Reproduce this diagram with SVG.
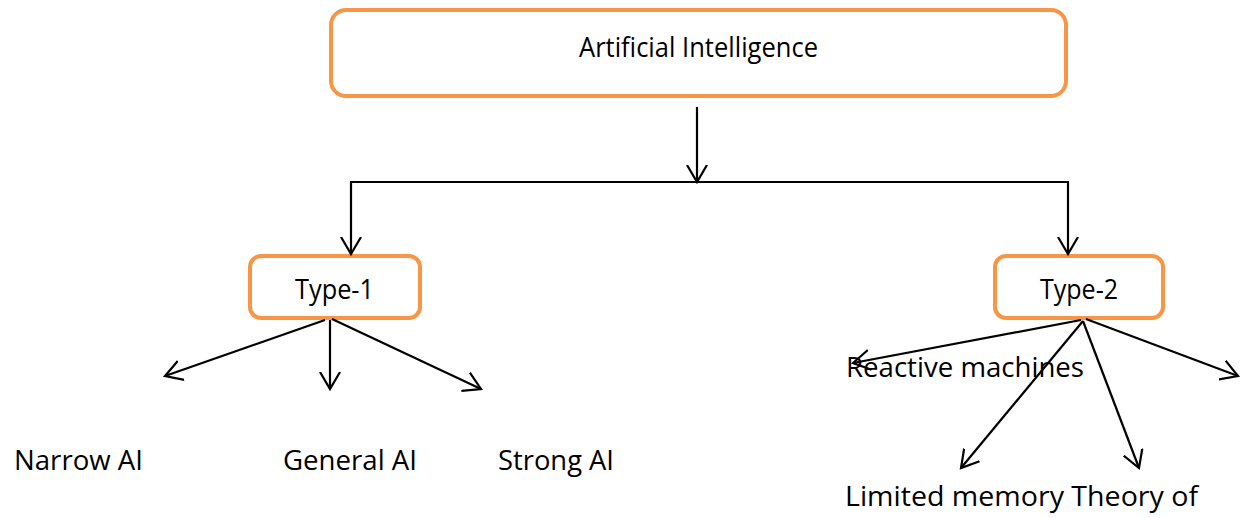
<svg xmlns="http://www.w3.org/2000/svg" width="1249" height="518" viewBox="0 0 1249 518">
  <style>
    .box { fill: #ffffff; stroke: #F79646; stroke-width: 4; }
    .lbl { font-family: "Open Sans", "Noto Sans", "Liberation Sans", sans-serif; font-size: 28px; fill: #000000; }
    .conn { stroke: #000000; stroke-width: 2.2; fill: none; }
  </style>
  <defs>
    <marker id="arrow" markerUnits="userSpaceOnUse" viewBox="0 0 20 22" markerWidth="20" markerHeight="22" refX="17" refY="11" orient="auto">
      <path d="M 0 1 L 17 11 L 0 21" fill="none" stroke="#000000" stroke-width="2.2"/>
    </marker>
  </defs>

  <g id="node-ai">
    <rect class="box" x="331" y="10" width="735" height="86" rx="15" ry="15"/>
    <text class="lbl" x="579" y="57" textLength="239" lengthAdjust="spacingAndGlyphs">Artificial Intelligence</text>
  </g>
  <g id="node-type1">
    <rect class="box" x="250" y="256" width="170" height="62" rx="11" ry="11"/>
    <text class="lbl" x="295" y="299" textLength="79" lengthAdjust="spacingAndGlyphs">Type-1</text>
  </g>
  <g id="node-type2">
    <rect class="box" x="995" y="256" width="168" height="62" rx="11" ry="11"/>
    <text class="lbl" x="1040" y="299" textLength="78" lengthAdjust="spacingAndGlyphs">Type-2</text>
  </g>
  <g id="node-narrow">
    <text class="lbl" x="14" y="470" textLength="129" lengthAdjust="spacingAndGlyphs">Narrow AI</text>
  </g>
  <g id="node-general">
    <text class="lbl" x="283" y="470" textLength="134" lengthAdjust="spacingAndGlyphs">General AI</text>
  </g>
  <g id="node-strong">
    <text class="lbl" x="498" y="470" textLength="116" lengthAdjust="spacingAndGlyphs">Strong AI</text>
  </g>
  <g id="node-reactive">
    <text class="lbl" x="846" y="377" textLength="238" lengthAdjust="spacingAndGlyphs">Reactive machines</text>
  </g>
  <g id="node-limited">
    <text class="lbl" x="845" y="506" textLength="353" lengthAdjust="spacingAndGlyphs">Limited memory Theory of</text>
  </g>

  <g id="connectors">
    <line class="conn" x1="697" y1="107" x2="697" y2="182" marker-end="url(#arrow)"/>
    <line class="conn" x1="350" y1="182" x2="1069" y2="182"/>
    <line class="conn" x1="351" y1="182" x2="351" y2="254" marker-end="url(#arrow)"/>
    <line class="conn" x1="1068" y1="182" x2="1068" y2="254" marker-end="url(#arrow)"/>

    <line class="conn" x1="325" y1="320" x2="165" y2="376" marker-end="url(#arrow)"/>
    <line class="conn" x1="330" y1="320" x2="330" y2="389" marker-end="url(#arrow)"/>
    <line class="conn" x1="332" y1="319" x2="481" y2="389" marker-end="url(#arrow)"/>

    <line class="conn" x1="1081" y1="320" x2="853" y2="363" marker-end="url(#arrow)"/>
    <line class="conn" x1="1083" y1="321" x2="961" y2="468" marker-end="url(#arrow)"/>
    <line class="conn" x1="1083" y1="321" x2="1139" y2="468" marker-end="url(#arrow)"/>
    <line class="conn" x1="1086" y1="319" x2="1238" y2="376" marker-end="url(#arrow)"/>
  </g>
</svg>
